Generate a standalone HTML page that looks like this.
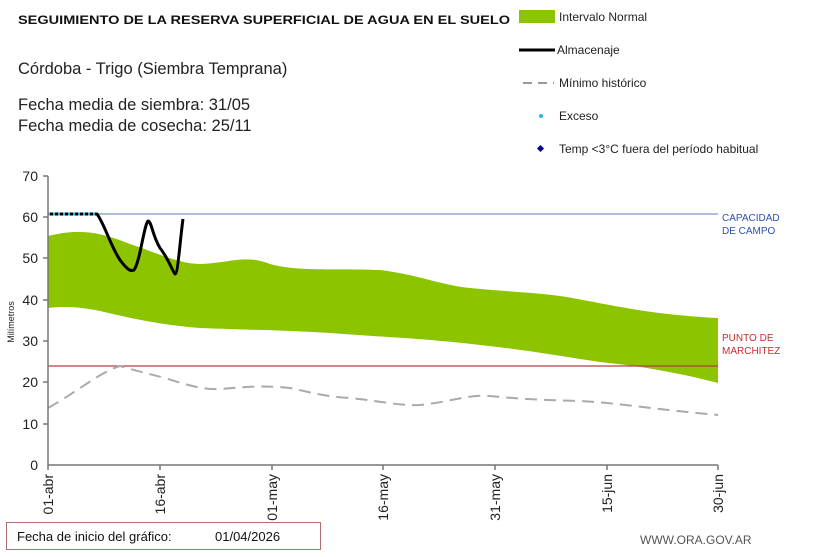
<!DOCTYPE html><html><head><meta charset="utf-8"><style>
body{margin:0;background:#fff;width:813px;height:552px;overflow:hidden;font-family:"Liberation Sans",sans-serif}
</style></head><body>
<svg width="813" height="552" xmlns="http://www.w3.org/2000/svg" font-family="Liberation Sans, sans-serif">
<text x="18" y="24" font-size="12" font-weight="bold" fill="#111" textLength="492" lengthAdjust="spacingAndGlyphs">SEGUIMIENTO DE LA RESERVA SUPERFICIAL DE AGUA EN EL SUELO</text>
<text x="18" y="74" font-size="16.5" fill="#222">Córdoba - Trigo (Siembra Temprana)</text>
<text x="18" y="110" font-size="16.5" fill="#222">Fecha media de siembra: 31/05</text>
<text x="18" y="131" font-size="16.5" fill="#222">Fecha media de cosecha: 25/11</text>
<rect x="519" y="10" width="36" height="13" fill="#8cc400"/>
<text x="559" y="21" font-size="12" fill="#222">Intervalo Normal</text>
<line x1="519" y1="50" x2="555" y2="50" stroke="#000" stroke-width="3"/>
<text x="557" y="54" font-size="12" fill="#222">Almacenaje</text>
<line x1="523" y1="83" x2="554" y2="83" stroke="#999" stroke-width="2" stroke-dasharray="9,6"/>
<text x="559" y="87" font-size="12" fill="#222">Mínimo histórico</text>
<circle cx="541" cy="116" r="2" fill="#2ab8e0"/>
<text x="559" y="120" font-size="12" fill="#222">Exceso</text>
<rect x="538" y="146" width="5" height="5" fill="#0000a0" transform="rotate(45 540.5 148.5)"/>
<text x="559" y="153" font-size="12" fill="#222">Temp &lt;3°C fuera del período habitual</text>
<path d="M48,236 C80,228 100,232 130,244 C160,254 180,264 200,264 C230,263 245,254 270,264 C300,272 330,268 380,270 C420,275 440,285 470,288 C510,292 530,292 560,296 C600,302 640,314 718,318 L718,383 C680,373 640,366 600,362 C560,356 520,349 480,345 C420,338 380,337 330,333 C280,330 250,330 200,328 C160,325 130,318 100,311 C80,307 65,306 48,308 Z" fill="#8cc400"/>
<line x1="48" y1="214" x2="718" y2="214" stroke="#5b7fb8" stroke-width="1"/>
<line x1="48" y1="366" x2="718" y2="366" stroke="#b04040" stroke-width="1.3"/>
<path d="M48,408 C80,390 100,372 120,366 C140,372 150,374 165,378 C190,386 205,390 220,389 C245,387 260,385 290,388 C310,392 320,396 350,398 C380,401 400,406 420,405 C450,402 470,394 490,396 C520,399 540,400 580,401 C620,403 650,409 718,415" fill="none" stroke="#aaa" stroke-width="2" stroke-dasharray="12,7"/>
<path d="M48,214 L97,214 C105,225 110,245 120,260 C126,268 130,272 134,270 C140,262 144,225 148,221 C152,222 152,235 160,248 C168,258 172,270 175,274 C178,274 180,240 183,219" fill="none" stroke="#000" stroke-width="3" stroke-linejoin="round"/>
<line x1="48" y1="214" x2="97" y2="214" stroke="#2ab8e0" stroke-width="3" stroke-dasharray="2,3"/>
<g stroke="#777" stroke-width="1.5">
<line x1="48" y1="176" x2="48" y2="465"/><line x1="48" y1="465" x2="718" y2="465"/>
<line x1="43" y1="176" x2="48" y2="176"/><line x1="43" y1="217" x2="48" y2="217"/><line x1="43" y1="258" x2="48" y2="258"/><line x1="43" y1="300" x2="48" y2="300"/><line x1="43" y1="341" x2="48" y2="341"/><line x1="43" y1="382" x2="48" y2="382"/><line x1="43" y1="424" x2="48" y2="424"/>
<line x1="48" y1="465" x2="48" y2="470"/><line x1="160" y1="465" x2="160" y2="470"/><line x1="272" y1="465" x2="272" y2="470"/><line x1="383" y1="465" x2="383" y2="470"/><line x1="495" y1="465" x2="495" y2="470"/><line x1="607" y1="465" x2="607" y2="470"/><line x1="718" y1="465" x2="718" y2="470"/>
</g>
<g font-size="14" fill="#222" text-anchor="end">
<text x="38" y="181">70</text><text x="38" y="222">60</text><text x="38" y="263">50</text><text x="38" y="305">40</text><text x="38" y="346">30</text><text x="38" y="387">20</text><text x="38" y="429">10</text><text x="38" y="470">0</text>
</g>
<text transform="translate(14 322) rotate(-90)" font-size="9" fill="#222" text-anchor="middle">Milímetros</text>
<g font-size="14" fill="#222" text-anchor="end">
<text transform="translate(53 474) rotate(-90)">01-abr</text>
<text transform="translate(165 474) rotate(-90)">16-abr</text>
<text transform="translate(277 474) rotate(-90)">01-may</text>
<text transform="translate(388 474) rotate(-90)">16-may</text>
<text transform="translate(500 474) rotate(-90)">31-may</text>
<text transform="translate(612 474) rotate(-90)">15-jun</text>
<text transform="translate(723 474) rotate(-90)">30-jun</text>
</g>
<text x="722" y="221" font-size="10" fill="#3050b0">CAPACIDAD</text>
<text x="722" y="234" font-size="10" fill="#3050b0">DE  CAMPO</text>
<text x="722" y="341" font-size="10" fill="#c03030">PUNTO  DE</text>
<text x="722" y="354" font-size="10" fill="#c03030">MARCHITEZ</text>
<rect x="6.5" y="522.5" width="314" height="27" fill="none" stroke="#b07070" stroke-width="1"/>
<text x="17" y="541" font-size="13" fill="#111">Fecha de inicio del gráfico:</text>
<text x="215" y="541" font-size="13" fill="#111">01/04/2026</text>
<text x="640" y="544" font-size="12" fill="#555">WWW.ORA.GOV.AR</text>
</svg>
</body></html>
